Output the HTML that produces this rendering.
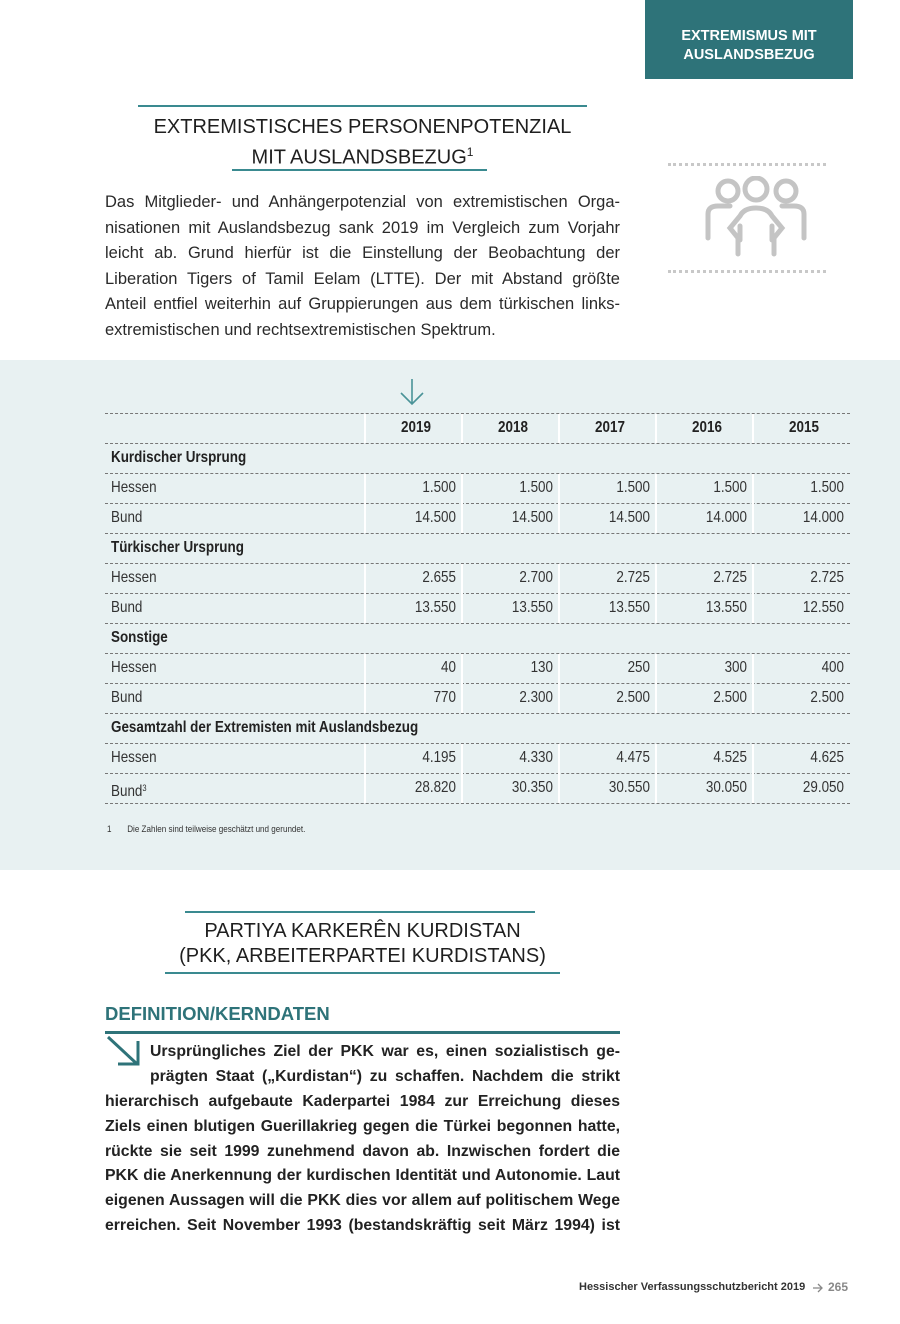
<!DOCTYPE html>
<html><head><meta charset="utf-8"><style>
*{margin:0;padding:0;box-sizing:border-box}
body{width:900px;height:1324px;position:relative;background:#fff;font-family:"Liberation Sans",sans-serif;color:#2a2a2a;overflow:hidden}
.abs{position:absolute}
.tab{position:absolute;left:645px;top:0;width:208px;height:79px;background:#2e7379;color:#fff;font-weight:bold;font-size:14.5px;text-align:center;line-height:19px;padding-top:27px}
.title{position:absolute;text-align:center;font-size:20px;line-height:25px;color:#1f1f1f}
.ln{position:absolute;height:2px;background:#3a8a90}
.para div{text-align:justify;text-align-last:justify;height:25.6px;line-height:25.6px;font-size:16.5px;white-space:nowrap}
.para div.last{text-align-last:left}
.band{position:absolute;left:0;top:360px;width:900px;height:510px;background:#e8f1f2}
.tbl{font-family:"Liberation Sans Narrow","Liberation Sans",sans-serif;font-size:16px;color:#333}
.hl{position:absolute;left:105px;width:745px;border-top:1px dashed #777}
.vl{position:absolute;width:2px;background:#fff}
.cell{position:absolute;height:30px;line-height:30px;text-align:right;width:90px;transform:scaleX(0.84);transform-origin:right center}
.hd{position:absolute;height:30px;line-height:30px;text-align:center;width:90px;transform:scaleX(0.84);transform-origin:center}
.lbl{position:absolute;left:111px;height:30px;line-height:30px;white-space:nowrap;transform:scaleX(0.84);transform-origin:left center}
.bpara div{text-align:justify;text-align-last:justify;height:24.9px;line-height:24.9px;font-size:15.8px;font-weight:bold;white-space:nowrap;color:#222}
</style></head><body>
<div class="tab">EXTREMISMUS MIT<br>AUSLANDSBEZUG</div>

<div class="ln" style="left:138px;top:105px;width:449px"></div>
<div class="title" style="left:100px;top:115px;width:525px">EXTREMISTISCHES PERSONENPOTENZIAL<br>MIT AUSLANDSBEZUG<sup style="font-size:12px">1</sup></div>
<div class="ln" style="left:232px;top:169px;width:255px"></div>

<div class="para abs" style="left:105px;top:190px;width:515px">
<div>Das Mitglieder- und Anhängerpotenzial von extremistischen Orga-</div>
<div>nisationen mit Auslandsbezug sank 2019 im Vergleich zum Vorjahr</div>
<div>leicht ab. Grund hierfür ist die Einstellung der Beobachtung der</div>
<div>Liberation Tigers of Tamil Eelam (LTTE). Der mit Abstand größte</div>
<div>Anteil entfiel weiterhin auf Gruppierungen aus dem türkischen links-</div>
<div class="last">extremistischen und rechtsextremistischen Spektrum.</div>
</div>

<div class="abs" style="left:668px;top:163px;width:158px;border-top:3px dotted #c8c8c8"></div>
<div class="abs" style="left:668px;top:270px;width:158px;border-top:3px dotted #c8c8c8"></div>
<svg class="abs" style="left:700px;top:176px" width="112" height="82" viewBox="0 0 112 82" fill="none" stroke="#c4c4c4" stroke-width="5" stroke-linecap="round">
<circle cx="28" cy="15" r="10"/><circle cx="56" cy="13" r="11"/><circle cx="86" cy="15" r="10"/>
<path d="M8 62 V38 Q8 30 18 30 H30"/><path d="M104 62 V38 Q104 30 94 30 H82"/>
<path d="M38 78 V62 L30 52 L40 40 Q44 32 56 32 Q68 32 72 40 L82 52 L74 62 V78"/>
<path d="M40 50 V64"/><path d="M72 50 V64"/>
</svg>

<div class="band"></div>
<svg class="abs" style="left:398px;top:378px" width="28" height="28" fill="none" stroke="#4a9398" stroke-width="1.6"><path d="M14 1 V26 M3 15 L14 26 L25 15"/></svg>

<div class="tbl">
<div class="hl" style="top:413px"></div><div class="hl" style="top:443px"></div><div class="hl" style="top:473px"></div><div class="hl" style="top:503px"></div><div class="hl" style="top:533px"></div><div class="hl" style="top:563px"></div><div class="hl" style="top:593px"></div><div class="hl" style="top:623px"></div><div class="hl" style="top:653px"></div><div class="hl" style="top:683px"></div><div class="hl" style="top:713px"></div><div class="hl" style="top:743px"></div><div class="hl" style="top:773px"></div><div class="hl" style="top:803px"></div>
<div class="vl" style="left:364px;top:414px;height:29px"></div><div class="vl" style="left:461px;top:414px;height:29px"></div><div class="vl" style="left:558px;top:414px;height:29px"></div><div class="vl" style="left:655px;top:414px;height:29px"></div><div class="vl" style="left:752px;top:414px;height:29px"></div>
<div class="vl" style="left:364px;top:474px;height:59px"></div><div class="vl" style="left:461px;top:474px;height:59px"></div><div class="vl" style="left:558px;top:474px;height:59px"></div><div class="vl" style="left:655px;top:474px;height:59px"></div><div class="vl" style="left:752px;top:474px;height:59px"></div>
<div class="vl" style="left:364px;top:564px;height:59px"></div><div class="vl" style="left:461px;top:564px;height:59px"></div><div class="vl" style="left:558px;top:564px;height:59px"></div><div class="vl" style="left:655px;top:564px;height:59px"></div><div class="vl" style="left:752px;top:564px;height:59px"></div>
<div class="vl" style="left:364px;top:654px;height:59px"></div><div class="vl" style="left:461px;top:654px;height:59px"></div><div class="vl" style="left:558px;top:654px;height:59px"></div><div class="vl" style="left:655px;top:654px;height:59px"></div><div class="vl" style="left:752px;top:654px;height:59px"></div>
<div class="vl" style="left:364px;top:744px;height:59px"></div><div class="vl" style="left:461px;top:744px;height:59px"></div><div class="vl" style="left:558px;top:744px;height:59px"></div><div class="vl" style="left:655px;top:744px;height:59px"></div><div class="vl" style="left:752px;top:744px;height:59px"></div>

<div style="font-weight:bold;color:#222">
<div class="hd" style="top:413px;left:371px">2019</div>
<div class="hd" style="top:413px;left:468px">2018</div>
<div class="hd" style="top:413px;left:565px">2017</div>
<div class="hd" style="top:413px;left:662px">2016</div>
<div class="hd" style="top:413px;left:759px">2015</div>
</div>

<div class="lbl" style="top:443px;font-weight:bold;color:#222">Kurdischer Ursprung</div>
<div class="lbl" style="top:533px;font-weight:bold;color:#222">Türkischer Ursprung</div>
<div class="lbl" style="top:623px;font-weight:bold;color:#222">Sonstige</div>
<div class="lbl" style="top:713px;font-weight:bold;color:#222">Gesamtzahl der Extremisten mit Auslandsbezug</div>

<div class="lbl" style="top:473px">Hessen</div><div class="lbl" style="top:503px">Bund</div>
<div class="lbl" style="top:563px">Hessen</div><div class="lbl" style="top:593px">Bund</div>
<div class="lbl" style="top:653px">Hessen</div><div class="lbl" style="top:683px">Bund</div>
<div class="lbl" style="top:743px">Hessen</div><div class="lbl" style="top:773px">Bund<span style="font-size:9px;vertical-align:5px">3</span></div>

<div class="cell" style="top:473px;left:366px">1.500</div><div class="cell" style="top:473px;left:463px">1.500</div><div class="cell" style="top:473px;left:560px">1.500</div><div class="cell" style="top:473px;left:657px">1.500</div><div class="cell" style="top:473px;left:754px">1.500</div>
<div class="cell" style="top:503px;left:366px">14.500</div><div class="cell" style="top:503px;left:463px">14.500</div><div class="cell" style="top:503px;left:560px">14.500</div><div class="cell" style="top:503px;left:657px">14.000</div><div class="cell" style="top:503px;left:754px">14.000</div>
<div class="cell" style="top:563px;left:366px">2.655</div><div class="cell" style="top:563px;left:463px">2.700</div><div class="cell" style="top:563px;left:560px">2.725</div><div class="cell" style="top:563px;left:657px">2.725</div><div class="cell" style="top:563px;left:754px">2.725</div>
<div class="cell" style="top:593px;left:366px">13.550</div><div class="cell" style="top:593px;left:463px">13.550</div><div class="cell" style="top:593px;left:560px">13.550</div><div class="cell" style="top:593px;left:657px">13.550</div><div class="cell" style="top:593px;left:754px">12.550</div>
<div class="cell" style="top:653px;left:366px">40</div><div class="cell" style="top:653px;left:463px">130</div><div class="cell" style="top:653px;left:560px">250</div><div class="cell" style="top:653px;left:657px">300</div><div class="cell" style="top:653px;left:754px">400</div>
<div class="cell" style="top:683px;left:366px">770</div><div class="cell" style="top:683px;left:463px">2.300</div><div class="cell" style="top:683px;left:560px">2.500</div><div class="cell" style="top:683px;left:657px">2.500</div><div class="cell" style="top:683px;left:754px">2.500</div>
<div class="cell" style="top:743px;left:366px">4.195</div><div class="cell" style="top:743px;left:463px">4.330</div><div class="cell" style="top:743px;left:560px">4.475</div><div class="cell" style="top:743px;left:657px">4.525</div><div class="cell" style="top:743px;left:754px">4.625</div>
<div class="cell" style="top:773px;left:366px">28.820</div><div class="cell" style="top:773px;left:463px">30.350</div><div class="cell" style="top:773px;left:560px">30.550</div><div class="cell" style="top:773px;left:657px">30.050</div><div class="cell" style="top:773px;left:754px">29.050</div>

<div class="abs" style="left:107px;top:824px;font-size:9.5px;color:#333;white-space:nowrap;transform:scaleX(0.85);transform-origin:left">1&nbsp;&nbsp;&nbsp;&nbsp;&nbsp;&nbsp;&nbsp;Die Zahlen sind teilweise geschätzt und gerundet.</div>
</div>

<div class="ln" style="left:185px;top:911px;width:350px"></div>
<div class="title" style="left:100px;top:919px;width:525px">PARTIYA KARKERÊN KURDISTAN<br>(PKK, ARBEITERPARTEI KURDISTANS)</div>
<div class="ln" style="left:165px;top:972px;width:395px"></div>

<div class="abs" style="left:105px;top:1003px;font-size:18.5px;font-weight:bold;color:#2e7379">DEFINITION/KERNDATEN</div>
<div class="abs" style="left:105px;top:1031px;width:515px;height:3px;background:#2e7379"></div>
<svg class="abs" style="left:106px;top:1035px" width="36" height="32" fill="none" stroke="#2e7379" stroke-width="3"><path d="M2 2 L30 28 M32 6 V29 H12"/></svg>

<div class="bpara abs" style="left:105px;top:1040px;width:515px">
<div style="margin-left:45px">Ursprüngliches Ziel der PKK war es, einen sozialistisch ge-</div>
<div style="margin-left:45px">prägten Staat („Kurdistan“) zu schaffen. Nachdem die strikt</div>
<div>hierarchisch aufgebaute Kaderpartei 1984 zur Erreichung dieses</div>
<div>Ziels einen blutigen Guerillakrieg gegen die Türkei begonnen hatte,</div>
<div>rückte sie seit 1999 zunehmend davon ab. Inzwischen fordert die</div>
<div>PKK die Anerkennung der kurdischen Identität und Autonomie. Laut</div>
<div>eigenen Aussagen will die PKK dies vor allem auf politischem Wege</div>
<div>erreichen. Seit November 1993 (bestandskräftig seit März 1994) ist</div>
</div>

<div class="abs" style="left:579px;top:1281px;font-size:11px;font-weight:bold;color:#333;white-space:nowrap">Hessischer Verfassungsschutzbericht 2019</div>
<svg class="abs" style="left:812px;top:1283px" width="12" height="10" fill="none" stroke="#888" stroke-width="1.3"><path d="M1 5 H10 M6 1 L10 5 L6 9"/></svg>
<div class="abs" style="left:828px;top:1280px;font-size:12px;font-weight:bold;color:#888;white-space:nowrap">265</div>
</body></html>
